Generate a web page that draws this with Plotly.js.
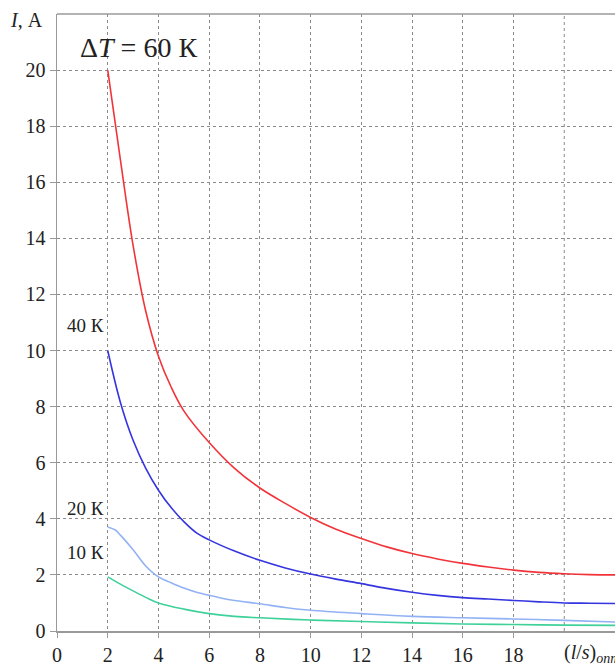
<!DOCTYPE html>
<html>
<head>
<meta charset="utf-8">
<script src="https://cdn.plot.ly/plotly-3.0.1.min.js"></script>
<style>
html,body{margin:0;padding:0;background:#fff;}
#chart{width:615px;height:670px;}
</style>
</head>
<body>
<div id="chart"></div>
<script>
// Data
const x60 = [2, 2.5, 3, 3.5, 4, 4.5, 5, 6, 7, 8, 9, 10, 11, 12, 13, 14, 15, 16, 17, 18, 19, 20, 21, 22];
const y60 = [20, 16.8, 13.75, 11.4, 9.8, 8.7, 7.85, 6.72, 5.8, 5.1, 4.55, 4.05, 3.63, 3.3, 3.0, 2.76, 2.57, 2.41, 2.28, 2.17, 2.09, 2.04, 2.01, 2.0];

const x40 = [2, 2.5, 3, 3.5, 4, 4.5, 5, 5.5, 6, 7, 8, 9, 10, 11, 12, 13, 14, 15, 16, 17, 18, 19, 20, 21, 22];
const y40 = [10, 8.15, 6.8, 5.8, 5.02, 4.4, 3.9, 3.5, 3.25, 2.85, 2.52, 2.25, 2.03, 1.85, 1.69, 1.52, 1.38, 1.27, 1.19, 1.14, 1.09, 1.04, 1.0, 0.99, 0.98];

const x20 = [2, 2.3, 2.5, 3, 3.5, 4, 4.5, 5, 5.5, 6, 6.5, 7, 8, 9, 10, 12, 14, 16, 18, 20, 22];
const y20 = [3.71, 3.6, 3.42, 2.9, 2.32, 1.93, 1.72, 1.53, 1.38, 1.27, 1.17, 1.09, 0.97, 0.84, 0.74, 0.62, 0.52, 0.47, 0.43, 0.38, 0.32];

const x10 = [2, 2.5, 3, 3.5, 4, 5, 6, 7, 8, 10, 12, 14, 16, 18, 20, 22];
const y10 = [1.93, 1.67, 1.43, 1.2, 1.0, 0.78, 0.62, 0.52, 0.47, 0.39, 0.34, 0.29, 0.25, 0.23, 0.21, 0.2];

const xTicks = [0, 2, 4, 6, 8, 10, 12, 14, 16, 18];
const xExtraGrid = [20];
const yTicks = [0, 2, 4, 6, 8, 10, 12, 14, 16, 18, 20];

const curveLabels = [
  {text: "40 К", x: 1.95, y: 10.88},
  {text: "20 К", x: 1.95, y: 4.38},
  {text: "10 К", x: 1.95, y: 2.81}
];

const FONT = "Liberation Serif";

function trace(x, y, color) {
  return {x: x, y: y, type: "scatter", mode: "lines",
    line: {color: color, width: 1.6, shape: "spline", smoothing: 1},
    hoverinfo: "skip", showlegend: false};
}

const data = [
  trace(x10, y10, "#3fd19a"),
  trace(x20, y20, "#92b2f4"),
  trace(x40, y40, "#3535e0"),
  trace(x60, y60, "#f2343a")
];

const annotations = curveLabels.map(l => ({
  text: l.text, x: l.x, y: l.y, xref: "x", yref: "y",
  xanchor: "right", yanchor: "middle", showarrow: false,
  font: {family: FONT, size: 19, color: "#222"}
}));
annotations.push({
  text: "<i>I</i>, А", xref: "paper", yref: "paper",
  x: -0.022, y: 0.99, xanchor: "right", yanchor: "middle",
  showarrow: false, font: {family: FONT, size: 20, color: "#222"}
});
annotations.push({
  text: "Δ<i>T</i> = 60 К", xref: "paper", yref: "paper",
  x: 0.038, y: 0.946, xanchor: "left", yanchor: "middle",
  showarrow: false, font: {family: FONT, size: 28, color: "#222"}
});
annotations.push({
  text: "(<i>l</i>/<i>s</i>)<sub><i>опт</i></sub>", xref: "x", yref: "paper",
  x: 19.9, y: -0.036, xanchor: "left", yanchor: "middle",
  showarrow: false, font: {family: FONT, size: 20, color: "#222"}
});

const gridShapes = xExtraGrid.map(v => ({
  type: "line", xref: "x", yref: "paper", x0: v, x1: v, y0: 0, y1: 1,
  layer: "below", line: {color: "#8a8a8a", width: 1, dash: "3px,3px"}
}));

const layout = {
  width: 615, height: 670,
  margin: {l: 57, r: 0, t: 14, b: 39, pad: 0},
  paper_bgcolor: "#fff", plot_bgcolor: "#fff",
  font: {family: FONT, size: 20, color: "#222"},
  xaxis: {
    range: [0, 22], tickvals: xTicks,
    showgrid: true, gridcolor: "#8a8a8a", gridwidth: 1, griddash: "3px,3px",
    showline: true, linecolor: "#9a9a9a", linewidth: 1.5,
    ticks: "outside", ticklen: 5, tickcolor: "#9a9a9a", tickwidth: 1,
    zeroline: false, fixedrange: true,
    tickfont: {family: FONT, size: 20, color: "#222"}
  },
  yaxis: {
    range: [0, 22], tickvals: yTicks,
    showgrid: true, gridcolor: "#8a8a8a", gridwidth: 1, griddash: "3px,3px",
    showline: true, linecolor: "#9a9a9a", linewidth: 1.5,
    ticks: "outside", ticklen: 6, tickcolor: "#9a9a9a", tickwidth: 1,
    zeroline: false, fixedrange: true,
    tickfont: {family: FONT, size: 20, color: "#222"}
  },
  shapes: gridShapes.concat([{
    type: "line", xref: "paper", yref: "paper", x0: 0, x1: 1, y0: 1, y1: 1,
    line: {color: "#9a9a9a", width: 1.5}
  }]),
  annotations: annotations,
  showlegend: false
};

Plotly.newPlot("chart", data, layout, {displayModeBar: false, staticPlot: true});
</script>
</body>
</html>
